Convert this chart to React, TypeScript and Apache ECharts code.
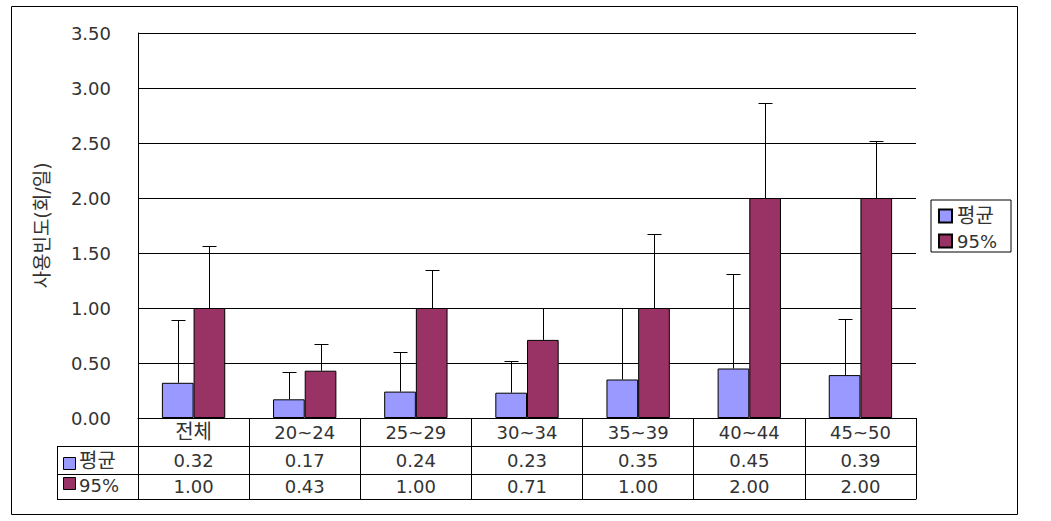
import React, { useEffect, useRef } from "react";
import * as echarts from "echarts";

const categories = ["전체", "20~24", "25~29", "30~34", "35~39", "40~44", "45~50"];
const seriesNames = ["평균", "95%"];
const avgValues = [0.32, 0.17, 0.24, 0.23, 0.35, 0.45, 0.39];
const p95Values = [1.0, 0.43, 1.0, 0.71, 1.0, 2.0, 2.0];
const avgErrTop = [0.89, 0.415, 0.6, 0.52, 1.0, 1.31, 0.9];
const p95ErrTop = [1.56, 0.675, 1.35, 1.0, 1.67, 2.86, 2.52];
const yMin = 0;
const yMax = 3.5;
const yInterval = 0.5;
const yAxisTitle = "사용빈도(회/일)";

const AVG_COLOR = "#9999FF";
const P95_COLOR = "#993366";
const FONT = "'DejaVu Sans', 'Noto Sans CJK KR', sans-serif";
const TEXT_COLOR = "#333";
const CAT_GAP = 0.43;
const KR_SIZE = 20;

const isKorean = (s: string) => /[\uAC00-\uD7A3]/.test(s);
const kr = (s: string) => (isKorean(s) ? `{k|${s}}` : s);
const richK = { k: { fontSize: KR_SIZE, fontFamily: FONT, color: TEXT_COLOR } };

function errSeries(name: string, bars: number[], tops: number[], side: number) {
  return {
    type: "custom",
    name,
    xAxisIndex: 0,
    yAxisIndex: 0,
    z: 5,
    data: bars.map((b, i) => [i, b, tops[i], side]),
    renderItem: (params: any, api: any) => {
      const idx = api.value(0);
      const base = api.coord([idx, api.value(1)]);
      const top = api.coord([idx, api.value(2)]);
      const band = api.size([1, 0])[0];
      const bw = (band * (1 - CAT_GAP)) / 2;
      const x = Math.round(base[0] + (api.value(3) * bw) / 2) + 0.5;
      const yt = Math.round(top[1]) + 0.5;
      return {
        type: "group",
        children: [
          { type: "line", shape: { x1: x, y1: base[1], x2: x, y2: yt }, style: { stroke: "#000", lineWidth: 1 } },
          { type: "line", shape: { x1: x - 7, y1: yt, x2: x + 7, y2: yt }, style: { stroke: "#000", lineWidth: 1 } },
        ],
      };
    },
  };
}

function tableAxis(offset: number, labels: string[] | null, margin: number) {
  return {
    type: "category",
    data: categories,
    position: "bottom",
    offset,
    axisLine: { show: true, lineStyle: { color: "#000", width: 1 } },
    axisTick: { show: false },
    axisLabel: labels
      ? {
          show: true,
          interval: 0,
          margin,
          verticalAlign: "middle",
          fontSize: 18,
          fontFamily: FONT,
          color: TEXT_COLOR,
          formatter: (_v: string, i: number) => labels[i],
        }
      : { show: false },
    splitLine: { show: false },
  };
}

export default function App() {
  const ref = useRef<HTMLDivElement>(null);
  useEffect(() => {
    if (!ref.current) return;
    const chart = echarts.init(ref.current, null, { renderer: "svg" });
    const option: any = {
      animation: false,
      backgroundColor: "#fff",
      grid: { left: 138, top: 33, right: 135, bottom: 103, containLabel: false },
      legend: {
        data: seriesNames,
        orient: "vertical",
        left: 931,
        top: 200,
        icon: "rect",
        itemWidth: 13,
        itemHeight: 13,
        itemGap: 5,
        padding: [6, 14, 1, 7],
        borderColor: "#000",
        borderWidth: 1,
        borderRadius: 0,
        formatter: (n: string) => kr(n),
        textStyle: { fontSize: 18, fontFamily: FONT, color: TEXT_COLOR, lineHeight: 20, rich: richK },
      },
      xAxis: [
        {
          type: "category",
          data: categories,
          position: "bottom",
          axisLine: { show: true, lineStyle: { color: "#000", width: 1 } },
          axisTick: { show: true, interval: 0, length: 81, lineStyle: { color: "#000", width: 1 } },
          axisLabel: {
            show: true,
            interval: 0,
            margin: 14,
            verticalAlign: "middle",
            fontSize: 18,
            fontFamily: FONT,
            color: TEXT_COLOR,
            formatter: (v: string) => kr(v),
            rich: richK,
          },
        },
        tableAxis(28, avgValues.map((v) => v.toFixed(2)), 14),
        tableAxis(56, p95Values.map((v) => v.toFixed(2)), 12.5),
        tableAxis(81, null, 0),
      ],
      yAxis: {
        type: "value",
        min: yMin,
        max: yMax,
        interval: yInterval,
        name: yAxisTitle,
        nameLocation: "middle",
        nameRotate: 90,
        nameGap: 87,
        nameTextStyle: { fontSize: 19, fontFamily: FONT, color: TEXT_COLOR },
        axisLine: { show: true, lineStyle: { color: "#000", width: 1 } },
        axisTick: { show: false },
        axisLabel: {
          margin: 27,
          fontSize: 18,
          fontFamily: FONT,
          color: TEXT_COLOR,
          formatter: (v: number) => v.toFixed(2),
        },
        splitLine: { show: true, lineStyle: { color: "#000", width: 1 } },
      },
      series: [
        {
          type: "bar",
          name: seriesNames[0],
          data: avgValues,
          barGap: "0%",
          barCategoryGap: CAT_GAP * 100 + "%",
          itemStyle: { color: AVG_COLOR, borderColor: "#000", borderWidth: 1 },
        },
        {
          type: "bar",
          name: seriesNames[1],
          data: p95Values,
          barGap: "0%",
          barCategoryGap: CAT_GAP * 100 + "%",
          itemStyle: { color: P95_COLOR, borderColor: "#000", borderWidth: 1 },
        },
        errSeries("err-avg", avgValues, avgErrTop, -1),
        errSeries("err-95", p95Values, p95ErrTop, 1),
      ],
      graphic: [
        {
          type: "rect",
          shape: { x: 11.5, y: 6.5, width: 1006, height: 508 },
          style: { fill: "none", stroke: "#000", lineWidth: 1 },
          silent: true,
          z: 0,
        },
        { type: "line", shape: { x1: 57, y1: 446.5, x2: 138, y2: 446.5 }, style: { stroke: "#000", lineWidth: 1 } },
        { type: "line", shape: { x1: 57, y1: 474.5, x2: 138, y2: 474.5 }, style: { stroke: "#000", lineWidth: 1 } },
        { type: "line", shape: { x1: 57, y1: 499.5, x2: 138, y2: 499.5 }, style: { stroke: "#000", lineWidth: 1 } },
        { type: "line", shape: { x1: 57.5, y1: 446, x2: 57.5, y2: 500 }, style: { stroke: "#000", lineWidth: 1 } },
        {
          type: "rect",
          shape: { x: 63.5, y: 457.5, width: 12, height: 12 },
          style: { fill: AVG_COLOR, stroke: "#000", lineWidth: 1 },
        },
        {
          type: "text",
          x: 79,
          y: 461,
          style: { text: seriesNames[0], fontSize: KR_SIZE, fontFamily: FONT, fill: TEXT_COLOR, verticalAlign: "middle" },
        },
        {
          type: "rect",
          shape: { x: 63.5, y: 477.5, width: 12, height: 12 },
          style: { fill: P95_COLOR, stroke: "#000", lineWidth: 1 },
        },
        {
          type: "text",
          x: 79,
          y: 485,
          style: { text: seriesNames[1], fontSize: 18, fontFamily: FONT, fill: TEXT_COLOR, verticalAlign: "middle" },
        },
      ],
    };
    chart.setOption(option);
    return () => chart.dispose();
  }, []);
  return <div ref={ref} style={{ position: "absolute", left: 0, top: 0, width: 1051, height: 521 }} />;
}
